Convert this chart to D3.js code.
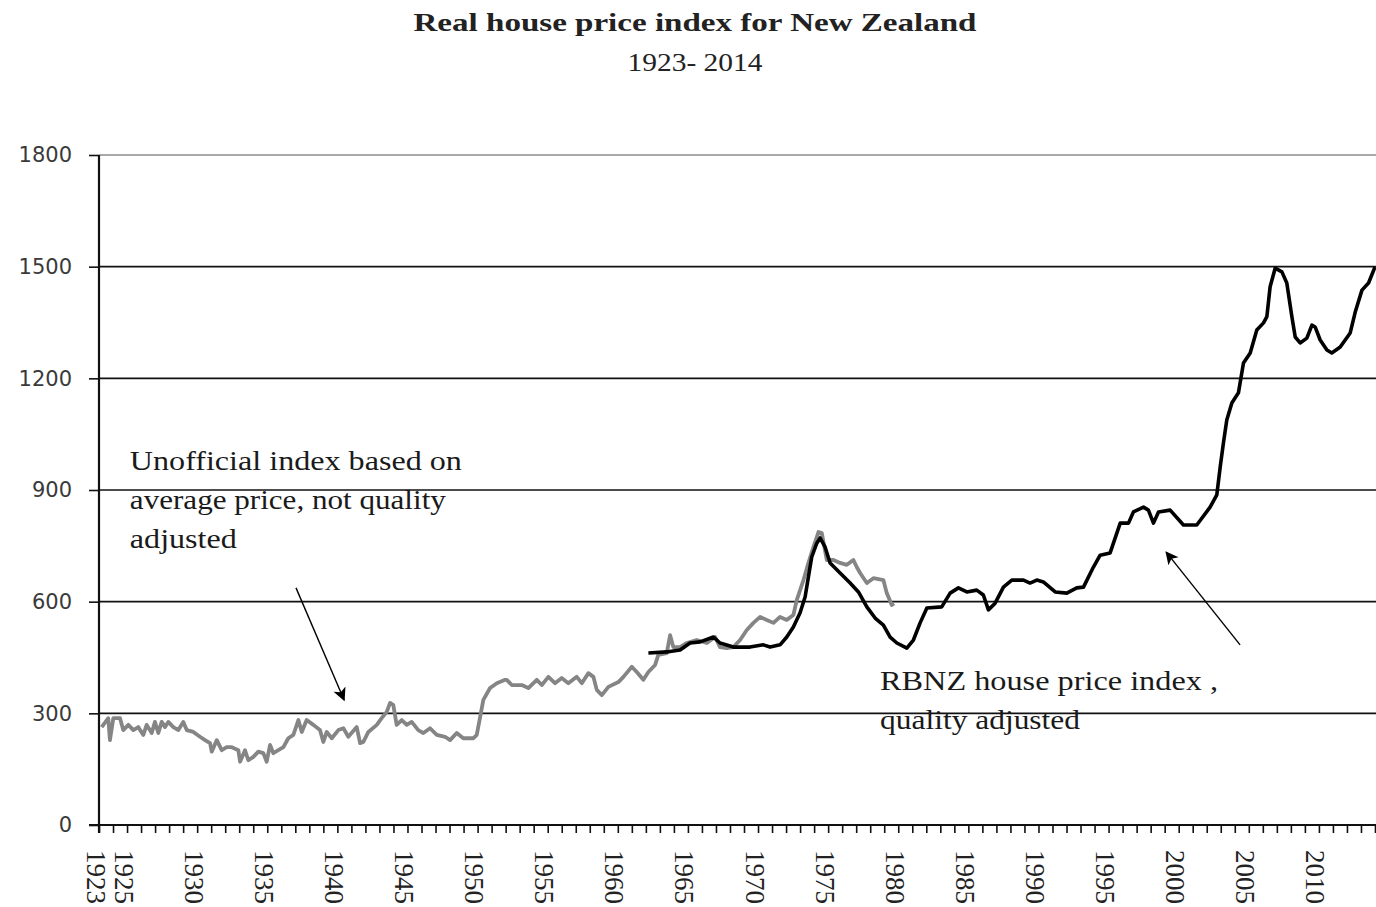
<!DOCTYPE html>
<html>
<head>
<meta charset="utf-8">
<script src="https://cdn.jsdelivr.net/npm/d3@7"></script>
<style>
  body { margin: 0; background: #fff; }
</style>
</head>
<body>
<svg id="chart"></svg>
<script>
// unofficial index, average price, not quality adjusted (grey)
const unofficialYears = [1923.19, 1923.66, 1923.78, 1924.02, 1924.5, 1924.73, 1925.09, 1925.45, 1925.8, 1926.16, 1926.4, 1926.76, 1926.99, 1927.23, 1927.47, 1927.71, 1927.94, 1928.3, 1928.66, 1929.01, 1929.26, 1929.73, 1930.2, 1930.56, 1930.92, 1931.04, 1931.4, 1931.75, 1932.11, 1932.47, 1932.94, 1933.06, 1933.41, 1933.65, 1934.01, 1934.36, 1934.72, 1934.96, 1935.2, 1935.43, 1935.79, 1936.15, 1936.5, 1936.86, 1937.22, 1937.46, 1937.81, 1938.29, 1938.76, 1939.0, 1939.24, 1939.6, 1940.07, 1940.43, 1940.78, 1941.38, 1941.62, 1941.85, 1942.21, 1942.81, 1943.16, 1943.52, 1943.76, 1943.99, 1944.23, 1944.59, 1944.95, 1945.3, 1945.77, 1946.13, 1946.61, 1947.09, 1947.68, 1948.04, 1948.51, 1948.98, 1949.7, 1949.94, 1950.18, 1950.41, 1950.89, 1951.37, 1951.96, 1952.08, 1952.44, 1953.15, 1953.62, 1954.22, 1954.58, 1955.05, 1955.52, 1956.0, 1956.47, 1957.07, 1957.43, 1957.9, 1958.26, 1958.5, 1958.86, 1959.33, 1960.04, 1960.4, 1961.0, 1961.35, 1961.82, 1962.18, 1962.66, 1962.89, 1963.49, 1963.73, 1963.96, 1964.44, 1964.92, 1965.63, 1966.35, 1966.94, 1967.29, 1967.77, 1968.24, 1968.72, 1969.2, 1969.67, 1970.15, 1970.62, 1971.1, 1971.57, 1972.05, 1972.52, 1972.76, 1973.0, 1973.24, 1973.59, 1973.95, 1974.31, 1974.55, 1974.9, 1975.38, 1975.85, 1976.33, 1976.8, 1977.04, 1977.28, 1977.76, 1978.23, 1978.94, 1979.18, 1979.54, 1979.7]
const unofficialIndex = [263, 287, 228, 287, 287, 255, 269, 255, 263, 242, 269, 247, 277, 247, 277, 263, 277, 263, 255, 277, 255, 250, 237, 228, 220, 197, 228, 201, 209, 209, 201, 170, 201, 174, 183, 197, 193, 170, 215, 193, 201, 209, 233, 242, 282, 250, 282, 269, 255, 223, 250, 233, 255, 260, 237, 263, 220, 223, 250, 269, 287, 304, 328, 322, 269, 282, 269, 277, 255, 247, 260, 242, 237, 228, 247, 233, 233, 242, 290, 336, 368, 381, 390, 390, 376, 376, 368, 390, 376, 398, 381, 395, 381, 398, 381, 408, 398, 363, 349, 371, 384, 398, 425, 411, 390, 411, 430, 457, 462, 510, 478, 478, 489, 497, 489, 505, 478, 475, 478, 497, 524, 543, 559, 551, 543, 559, 551, 564, 604, 631, 658, 704, 747, 787, 784, 712, 712, 704, 699, 712, 693, 677, 650, 663, 658, 623, 591, 595]

// RBNZ house price index, quality adjusted (black)
const rbnzYears = [1962.18, 1963.49, 1964.44, 1965.15, 1965.87, 1966.82, 1967.29, 1968.24, 1969.43, 1970.38, 1970.86, 1971.57, 1972.05, 1972.52, 1973.0, 1973.36, 1973.59, 1973.83, 1974.19, 1974.43, 1974.78, 1975.14, 1975.85, 1976.57, 1977.16, 1977.76, 1978.35, 1978.94, 1979.42, 1979.9, 1980.61, 1981.08, 1981.56, 1982.04, 1983.1, 1983.7, 1984.29, 1984.89, 1985.6, 1986.07, 1986.43, 1986.91, 1987.5, 1988.1, 1988.93, 1989.4, 1989.88, 1990.35, 1991.19, 1992.02, 1992.73, 1993.21, 1993.92, 1994.4, 1995.11, 1995.83, 1996.42, 1996.77, 1997.49, 1997.84, 1998.2, 1998.56, 1999.39, 2000.34, 2001.29, 2002.24, 2002.72, 2002.96, 2003.19, 2003.43, 2003.79, 2004.26, 2004.62, 2005.1, 2005.57, 2006.05, 2006.29, 2006.52, 2006.88, 2007.36, 2007.71, 2008.07, 2008.31, 2008.66, 2009.14, 2009.5, 2009.73, 2010.09, 2010.57, 2010.92, 2011.52, 2012.23, 2012.59, 2013.07, 2013.54, 2014.0]
const rbnzIndex = [462, 465, 470, 489, 492, 505, 489, 478, 478, 484, 478, 484, 505, 532, 570, 613, 666, 720, 757, 771, 747, 704, 677, 650, 626, 586, 556, 537, 505, 489, 475, 497, 543, 583, 586, 623, 637, 626, 631, 618, 578, 596, 639, 658, 658, 650, 658, 653, 626, 623, 637, 639, 693, 725, 731, 811, 811, 841, 854, 846, 811, 841, 846, 806, 806, 854, 887, 962, 1026, 1088, 1134, 1161, 1241, 1268, 1330, 1349, 1366, 1446, 1496, 1486, 1456, 1366, 1311, 1295, 1308, 1343, 1338, 1303, 1276, 1268, 1284, 1322, 1378, 1437, 1456, 1499]

const yTicks = [0, 300, 600, 900, 1200, 1500, 1800]
const xLabels = [1923, 1925, 1930, 1935, 1940, 1945, 1950, 1955, 1960, 1965, 1970, 1975, 1980, 1985, 1990, 1995, 2000, 2005, 2010]
const xTickYears = d3.range(1923, 2015)

const titleLines = ['Real house price index for New Zealand', '1923- 2014']

// annotation text, anchored in data units (year, index)
const noteUnofficial = ['Unofficial index based on', 'average price, not quality', 'adjusted']
const noteRbnz = ['RBNZ house price index ,', 'quality adjusted']
const arrows = [
  { from: [1937.05, 637], to: [1940.48, 336] },
  { from: [2004.38, 484], to: [1999.11, 733] }
]

const width = 1376
const height = 907
const margin = { top: 155, right: 1, bottom: 82, left: 99 }
const serif = "'Liberation Serif', serif"

const svg = d3.select('#chart').attr('width', width).attr('height', height)
svg.append('rect').attr('width', width).attr('height', height).attr('fill', '#fff')

const x = d3.scaleLinear().domain([1923, 2014]).range([margin.left, width - margin.right])
const y = d3.scaleLinear().domain([0, 1800]).range([height - margin.bottom, margin.top])

// title
svg
  .selectAll('.title')
  .data(titleLines)
  .enter()
  .append('text')
  .attr('class', 'title')
  .attr('x', 695)
  .attr('y', (d, i) => 31 + i * 40)
  .attr('text-anchor', 'middle')
  .style('font-family', serif)
  .attr('font-size', (d, i) => (i === 0 ? '26px' : '25px'))
  .attr('font-weight', (d, i) => (i === 0 ? 'bold' : 'normal'))
  .attr('textLength', (d, i) => (i === 0 ? 563 : 135))
  .attr('lengthAdjust', 'spacingAndGlyphs')
  .attr('fill', '#222')
  .text((d) => d)

// gridlines
svg
  .append('g')
  .selectAll('line')
  .data(yTicks.filter((d) => d > 0))
  .enter()
  .append('line')
  .attr('x1', margin.left)
  .attr('x2', width)
  .attr('y1', (d) => y(d))
  .attr('y2', (d) => y(d))
  .attr('stroke', (d) => (d === 1800 ? '#8c8c8c' : '#111'))
  .attr('stroke-width', 1.6)

// y axis
const yAxis = svg
  .append('g')
  .attr('transform', `translate(${margin.left},0)`)
  .call(d3.axisLeft(y).tickValues(yTicks).tickFormat(d3.format('d')).tickSize(10).tickPadding(17))
yAxis.select('.domain').remove()
yAxis.selectAll('.tick line').attr('stroke', '#111').attr('stroke-width', 1.6)
yAxis
  .selectAll('.tick text')
  .style('font-family', "'DejaVu Sans', sans-serif")
  .style('font-size', '21px')
  .attr('fill', '#3a3a3a')
svg
  .append('line')
  .attr('x1', margin.left)
  .attr('x2', margin.left)
  .attr('y1', y(1800))
  .attr('y2', y(0) + 8)
  .attr('stroke', '#111')
  .attr('stroke-width', 2.2)

// x axis with a tick every year
const xAxis = svg
  .append('g')
  .attr('transform', `translate(0,${y(0)})`)
  .call(d3.axisBottom(x).tickValues(xTickYears).tickSize(8).tickFormat(''))
xAxis.select('.domain').attr('d', `M${margin.left - 10},0H${width}`).attr('stroke', '#111').attr('stroke-width', 2.2)
xAxis.selectAll('.tick line').attr('stroke', '#111').attr('stroke-width', 1.6)

svg
  .append('g')
  .selectAll('text')
  .data(xLabels)
  .enter()
  .append('text')
  .attr('transform', (d) => `translate(${x(d) - 3},850) rotate(90)`)
  .attr('dy', '0.35em')
  .style('font-family', serif)
  .attr('font-size', '27px')
  .attr('fill', '#222')
  .text((d) => d)

// series
const line = d3
  .line()
  .x((d) => x(d[0]))
  .y((d) => y(d[1]))

svg
  .append('path')
  .datum(d3.zip(unofficialYears, unofficialIndex))
  .attr('d', line)
  .attr('fill', 'none')
  .attr('stroke', '#858585')
  .attr('stroke-width', 3.8)
  .attr('stroke-linejoin', 'round')

svg
  .append('path')
  .datum(d3.zip(rbnzYears, rbnzIndex))
  .attr('d', line)
  .attr('fill', 'none')
  .attr('stroke', '#000')
  .attr('stroke-width', 3.6)
  .attr('stroke-linejoin', 'round')

// annotations
function note(lines, year, value, widths) {
  svg
    .append('g')
    .selectAll('text')
    .data(lines)
    .enter()
    .append('text')
    .attr('x', x(year))
    .attr('y', (d, i) => y(value) + i * 39)
    .style('font-family', serif)
    .attr('font-size', '27px')
    .attr('textLength', (d, i) => widths[i])
    .attr('lengthAdjust', 'spacingAndGlyphs')
    .attr('fill', '#1a1a1a')
    .text((d) => d)
}
note(noteUnofficial, 1925.2, 953, [332, 316, 107])
note(noteRbnz, 1978.7, 362, [338, 200])

svg
  .append('defs')
  .append('marker')
  .attr('id', 'head')
  .attr('viewBox', '0 0 10 10')
  .attr('refX', 9)
  .attr('refY', 5)
  .attr('markerWidth', 15)
  .attr('markerHeight', 13)
  .attr('markerUnits', 'userSpaceOnUse')
  .attr('orient', 'auto')
  .append('path')
  .attr('d', 'M0,0L10,5L0,10L2.5,5Z')
  .attr('fill', '#000')

svg
  .append('g')
  .selectAll('line')
  .data(arrows)
  .enter()
  .append('line')
  .attr('x1', (d) => x(d.from[0]))
  .attr('y1', (d) => y(d.from[1]))
  .attr('x2', (d) => x(d.to[0]))
  .attr('y2', (d) => y(d.to[1]))
  .attr('stroke', '#000')
  .attr('stroke-width', 1.4)
  .attr('marker-end', 'url(#head)')
</script>
</body>
</html>
